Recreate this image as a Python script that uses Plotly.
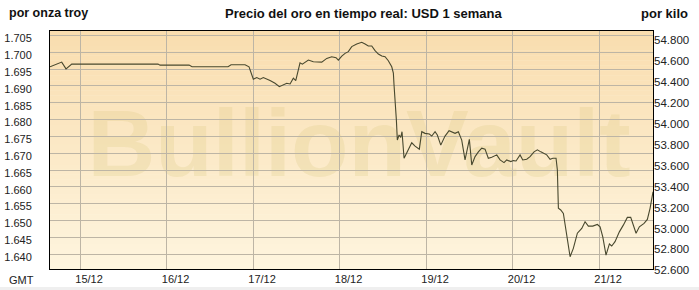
import plotly.graph_objects as go

# ---- data (USD per troy ounce, GMT timestamps) ----
times = [
    "2012-12-14 15:41", "2012-12-14 18:55", "2012-12-14 20:07", "2012-12-14 21:42",
    "2012-12-15 21:38", "2012-12-15 22:12", "2012-12-16 06:15", "2012-12-16 07:05",
    "2012-12-16 17:04", "2012-12-16 17:54", "2012-12-16 21:47", "2012-12-16 22:53",
    "2012-12-17 00:05", "2012-12-17 01:02", "2012-12-17 01:57", "2012-12-17 02:51",
    "2012-12-17 04:43", "2012-12-17 06:06", "2012-12-17 07:18", "2012-12-17 08:25",
    "2012-12-17 09:21", "2012-12-17 10:16", "2012-12-17 11:11", "2012-12-17 11:51",
    "2012-12-17 12:17", "2012-12-17 13:02", "2012-12-17 13:41", "2012-12-17 14:26",
    "2012-12-17 15:21", "2012-12-17 16:44", "2012-12-17 19:04", "2012-12-17 20:27",
    "2012-12-17 21:50", "2012-12-17 23:02", "2012-12-17 23:40", "2012-12-18 00:37",
    "2012-12-18 01:32", "2012-12-18 02:26", "2012-12-18 03:23", "2012-12-18 04:46",
    "2012-12-18 06:10", "2012-12-18 07:05", "2012-12-18 07:59", "2012-12-18 08:56",
    "2012-12-18 09:51", "2012-12-18 10:46", "2012-12-18 11:43", "2012-12-18 12:38",
    "2012-12-18 13:32", "2012-12-18 14:29", "2012-12-18 14:56", "2012-12-18 15:07",
    "2012-12-18 15:29", "2012-12-18 15:46", "2012-12-18 16:02", "2012-12-18 16:31",
    "2012-12-18 16:59", "2012-12-18 17:20", "2012-12-18 17:54", "2012-12-18 18:39",
    "2012-12-18 20:02", "2012-12-18 20:57", "2012-12-18 22:08", "2012-12-18 22:49",
    "2012-12-18 23:43", "2012-12-19 00:55", "2012-12-19 01:35", "2012-12-19 02:30",
    "2012-12-19 03:08", "2012-12-19 04:05", "2012-12-19 05:16", "2012-12-19 06:23",
    "2012-12-19 07:25", "2012-12-19 08:03", "2012-12-19 08:58", "2012-12-19 09:54",
    "2012-12-19 10:49", "2012-12-19 11:28", "2012-12-19 12:01", "2012-12-19 12:41",
    "2012-12-19 13:36", "2012-12-19 14:31", "2012-12-19 15:27", "2012-12-19 16:22",
    "2012-12-19 17:17", "2012-12-19 18:14", "2012-12-19 19:37", "2012-12-19 20:32",
    "2012-12-19 21:38", "2012-12-19 22:23", "2012-12-19 23:30", "2012-12-20 00:13",
    "2012-12-20 00:58", "2012-12-20 02:05", "2012-12-20 02:50", "2012-12-20 03:56",
    "2012-12-20 04:51", "2012-12-20 05:58", "2012-12-20 06:53", "2012-12-20 07:50",
    "2012-12-20 08:33", "2012-12-20 09:29", "2012-12-20 10:25", "2012-12-20 11:10",
    "2012-12-20 12:04", "2012-12-20 12:26", "2012-12-20 12:43", "2012-12-20 13:22",
    "2012-12-20 14:06", "2012-12-20 15:02", "2012-12-20 15:58", "2012-12-20 16:52",
    "2012-12-20 17:59", "2012-12-20 19:12", "2012-12-20 20:07", "2012-12-20 21:02",
    "2012-12-20 22:15", "2012-12-20 23:32", "2012-12-21 00:17", "2012-12-21 01:02",
    "2012-12-21 01:56", "2012-12-21 02:52", "2012-12-21 03:31", "2012-12-21 04:26",
    "2012-12-21 05:38", "2012-12-21 06:44", "2012-12-21 07:51", "2012-12-21 08:47",
    "2012-12-21 09:31", "2012-12-21 10:16", "2012-12-21 11:11", "2012-12-21 12:29",
    "2012-12-21 13:24", "2012-12-21 14:09", "2012-12-21 14:58",
]
price_oz = [
    1695.7, 1697.1, 1695.1, 1696.5,
    1696.5, 1696.2, 1696.2, 1695.7,
    1695.7, 1696.3, 1696.3, 1695.7,
    1692.0, 1692.5, 1692.0, 1692.5,
    1691.6, 1690.8, 1689.8, 1690.3,
    1690.8, 1690.6, 1692.3, 1691.6,
    1693.8, 1696.9, 1696.5, 1697.1,
    1697.7, 1697.2, 1697.1, 1698.2,
    1698.7, 1698.4, 1697.7, 1698.9,
    1699.7, 1700.2, 1701.7, 1702.5,
    1703.0, 1702.5, 1701.9, 1701.9,
    1700.5, 1699.5, 1698.9, 1698.7,
    1697.5, 1695.7, 1693.8, 1690.3,
    1685.8, 1679.9, 1673.9, 1675.4,
    1674.7, 1676.4, 1668.5, 1670.0,
    1673.1, 1672.1, 1671.2, 1676.4,
    1675.9, 1675.7, 1675.1, 1676.4,
    1675.4, 1672.4, 1675.1, 1676.7,
    1676.1, 1675.9, 1676.4, 1673.9,
    1668.0, 1671.5, 1674.1, 1666.5,
    1669.0, 1670.4, 1671.5, 1671.2,
    1668.5, 1668.8, 1669.5, 1668.0,
    1667.2, 1668.0, 1667.5, 1667.8,
    1667.7, 1669.5, 1668.0, 1668.2,
    1669.0, 1670.4, 1671.0, 1670.4,
    1670.1, 1669.5, 1668.2, 1668.5,
    1668.5, 1665.0, 1653.6, 1653.1,
    1652.1, 1646.2, 1639.2, 1641.7,
    1646.2, 1647.6, 1649.6, 1648.3,
    1648.3, 1648.8, 1648.1, 1645.1,
    1639.7, 1643.0, 1642.4, 1643.7,
    1646.6, 1648.6, 1650.9, 1650.9,
    1648.6, 1646.2, 1648.1, 1649.1,
    1650.3, 1653.6, 1658.5,
]

OZ_PER_KG = 32.1507466
y_range_oz = [1635.55, 1706.35]
x_range = ["2012-12-14 15:40", "2012-12-21 14:58"]
left_ticks = list(range(1640, 1706, 5))
right_ticks = list(range(52600, 54801, 200))

title_text = "Precio del oro en tiempo real: USD 1 semana"
left_unit = "por onza troy"
right_unit = "por kilo"
tz_label = "GMT"
watermark = "BullionVault"

FONT = "Liberation Sans, Arial, sans-serif"

fig = go.Figure()
fig.add_trace(go.Scatter(
    x=times, y=price_oz, mode="lines",
    line=dict(color="#48482e", width=1.1), hoverinfo="x+y", showlegend=False,
))
fig.add_trace(go.Scatter(
    x=times, y=[p * OZ_PER_KG for p in price_oz], mode="lines", yaxis="y2",
    line=dict(color="rgba(0,0,0,0)", width=0), hoverinfo="skip", showlegend=False,
))

# gradient background bands
top = (249, 221, 175)
bot = (254, 245, 222)
n = 48
shapes = []
for i in range(n):
    t = i / (n - 1)
    c = tuple(round(top[k] + (bot[k] - top[k]) * t) for k in range(3))
    shapes.append(dict(
        type="rect", xref="x domain", yref="y domain",
        x0=0, x1=1, y0=1 - (i + 1) / n, y1=1 - i / n + 0.001,
        line=dict(width=0), fillcolor="rgb(%d,%d,%d)" % c, layer="below",
    ))
# watermark
shapes.append(dict(
    type="rect", xref="x domain", yref="y domain", x0=0.025, x1=1.0, y0=0.31, y1=0.82,
    line=dict(width=0), fillcolor="rgba(0,0,0,0)", layer="below",
    label=dict(text=watermark, textposition="middle center",
               font=dict(family=FONT, size=94, color="rgba(214,196,120,0.22)", weight="bold")),
))
# light grey strip at the bottom of the page
shapes.append(dict(
    type="rect", xref="paper", yref="paper", x0=-0.1, x1=1.2,
    y0=-(290 - 269) / 238 - 0.01, y1=-(287 - 269) / 238,
    line=dict(width=0), fillcolor="#efefef", layer="below",
))

fig.update_layout(
    width=699, height=290,
    margin=dict(l=50, r=46, t=31, b=21, pad=0, autoexpand=False),
    paper_bgcolor="white", plot_bgcolor=("rgb(%d,%d,%d)" % bot),
    separators=",.",
    font=dict(family=FONT, size=11, color="#222222"),
    showlegend=False,
    shapes=shapes,
    xaxis=dict(
        type="date", range=x_range, tick0="2012-12-15", dtick=86400000,
        tickformat="%d/%m", showgrid=True, gridcolor="#bdb5a5", gridwidth=1,
        showline=True, linecolor="black", linewidth=1, mirror=True,
        ticks="", ticklabelshift=9, zeroline=False, automargin=False,
        tickfont=dict(size=11, color="#222222"),
    ),
    yaxis=dict(
        range=y_range_oz, tickvals=left_ticks, tickformat=",d",
        showgrid=True, gridcolor="#bdb5a5", gridwidth=1,
        showline=True, linecolor="black", linewidth=1, mirror=True,
        ticks="", ticklabelstandoff=15, ticklabelshift=3, zeroline=False, automargin=False,
        tickfont=dict(size=11, color="#222222"),
    ),
    yaxis2=dict(
        overlaying="y", side="right",
        range=[v * OZ_PER_KG for v in y_range_oz], tickvals=right_ticks, tickformat=",d",
        showgrid=False, showline=False, ticks="", ticklabelstandoff=0, ticklabelshift=3,
        zeroline=False, automargin=False, tickfont=dict(size=11.5, color="#222222"),
    ),
    annotations=[
        dict(text="<b>%s</b>" % left_unit, xref="paper", yref="paper",
             x=-43 / 603, y=(269 - 13) / 238, xanchor="left", yanchor="middle",
             showarrow=False, font=dict(size=12.5, color="#111111")),
        dict(text="<b>%s</b>" % title_text, xref="paper", yref="paper",
             x=(363 - 50) / 603, y=(269 - 13) / 238, xanchor="center", yanchor="middle",
             showarrow=False, font=dict(size=13, color="#111111")),
        dict(text="<b>%s</b>" % right_unit, xref="paper", yref="paper",
             x=(690 - 50) / 603, y=(269 - 13) / 238, xanchor="right", yanchor="middle",
             showarrow=False, font=dict(size=13, color="#111111")),
        dict(text=tz_label, xref="paper", yref="paper",
             x=-43 / 603, y=-(280 - 269) / 238, xanchor="left", yanchor="middle",
             showarrow=False, font=dict(size=11, color="#222222")),
    ],
)

fig.write_html("out.html")
